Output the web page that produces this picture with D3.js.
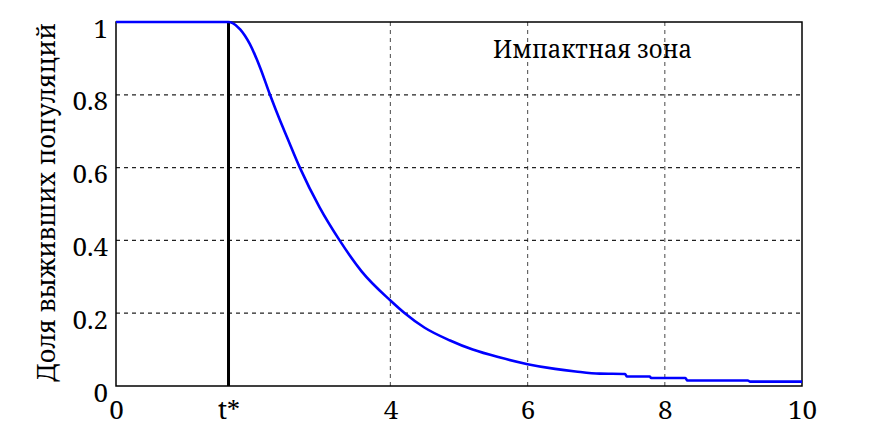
<!DOCTYPE html>
<html>
<head>
<meta charset="utf-8">
<script src="https://cdn.jsdelivr.net/npm/d3@7"></script>
<style>
  html, body { margin: 0; padding: 0; background: #fff; }
  svg { display: block; }
  svg text { font-family: "Noto Serif", "DejaVu Serif", serif !important; fill: #000; }
</style>
</head>
<body>
<svg id="chart" width="886" height="429"></svg>
<script>
// ---- data ----
const tStar = 1.64;
const timeValues = [0, 1.64, 1.70, 1.81, 1.95, 2.10, 2.245, 2.39, 2.49, 2.68, 2.97, 3.26, 3.58, 4.00, 4.21, 4.50, 4.87, 5.20, 5.60, 6.00, 6.40, 6.70, 7.05, 7.42, 7.45, 7.78, 7.80, 8.30, 8.33, 9.21, 9.24, 10];
const survivalValues = [1, 1, 0.997, 0.98, 0.94, 0.875, 0.80, 0.73, 0.685, 0.60, 0.49, 0.40, 0.315, 0.235, 0.20, 0.16, 0.125, 0.10, 0.078, 0.06, 0.047, 0.04, 0.034, 0.033, 0.026, 0.026, 0.022, 0.022, 0.015, 0.015, 0.012, 0.012];
const xTickValues = [0, tStar, 4, 6, 8, 10];
const xTickLabels = ["0", "t*", "4", "6", "8", "10"];
const xGridValues = [4, 6, 8];
const yTickValues = [0, 0.2, 0.4, 0.6, 0.8, 1];
const yTickLabels = ["0", "0.2", "0.4", "0.6", "0.8", "1"];
const yGridValues = [0.2, 0.4, 0.6, 0.8];
const yAxisTitle = "Доля выживших популяций";
const annotation = "Импактная зона";

// ---- layout ----
const svg = d3.select("#chart");
const plot = { left: 116, right: 802, top: 22, bottom: 386 };
const x = d3.scaleLinear().domain([0, 10]).range([plot.left, plot.right]);
const y = d3.scaleLinear().domain([0, 1]).range([plot.bottom, plot.top]);

// grid
svg.append("g").selectAll("line").data(xGridValues).join("line")
  .attr("x1", d => x(d)).attr("x2", d => x(d))
  .attr("y1", plot.top).attr("y2", plot.bottom)
  .attr("stroke", "#666").attr("stroke-width", 1.2).attr("stroke-dasharray", "4,4");
svg.append("g").selectAll("line").data(yGridValues).join("line")
  .attr("x1", plot.left).attr("x2", plot.right)
  .attr("y1", d => y(d)).attr("y2", d => y(d))
  .attr("stroke", "#222").attr("stroke-width", 1.2).attr("stroke-dasharray", "4,4");

// frame
svg.append("rect")
  .attr("x", plot.left).attr("y", plot.top)
  .attr("width", plot.right - plot.left).attr("height", plot.bottom - plot.top)
  .attr("fill", "none").attr("stroke", "#000").attr("stroke-width", 1.5);

// axes
const xAxis = d3.axisBottom(x).tickValues(xTickValues)
  .tickFormat((d, i) => xTickLabels[i]).tickSize(0).tickPadding(0);
const gx = svg.append("g").attr("transform", `translate(0,${plot.bottom})`).call(xAxis);
gx.attr("font-family", null);
gx.select(".domain").remove();
gx.selectAll("text").attr("font-size", 26)
  .attr("dy", null).attr("y", 33).attr("fill", "#000");

const yAxis = d3.axisLeft(y).tickValues(yTickValues)
  .tickFormat((d, i) => yTickLabels[i]).tickSize(0).tickPadding(0);
const gy = svg.append("g").attr("transform", `translate(${plot.left},0)`).call(yAxis);
gy.attr("font-family", null);
gy.select(".domain").remove();
gy.selectAll("text").attr("font-size", 26)
  .attr("x", -8).attr("dy", null).attr("y", 15).attr("fill", "#000");

// t* vertical line
svg.append("line")
  .attr("x1", x(tStar)).attr("x2", x(tStar))
  .attr("y1", y(0)).attr("y2", y(1))
  .attr("stroke", "#000").attr("stroke-width", 3);

// curve
const pts = timeValues.map((t, i) => [t, survivalValues[i]]);
svg.append("path").datum(pts)
  .attr("d", d3.line().x(d => x(d[0])).y(d => y(d[1])).curve(d3.curveMonotoneX))
  .attr("fill", "none").attr("stroke", "#0000ff").attr("stroke-width", 2.6)
  .attr("stroke-linejoin", "round");

// y title
svg.append("text")
  .attr("transform", `translate(55,${(23 + 382) / 2}) rotate(-90)`)
  .attr("text-anchor", "middle").attr("font-size", 25)
  .attr("textLength", 359).attr("lengthAdjust", "spacingAndGlyphs")
  .text(yAxisTitle);

// annotation
svg.append("text")
  .attr("x", 493).attr("y", 58).attr("font-size", 25)
  .attr("textLength", 199).attr("lengthAdjust", "spacingAndGlyphs")
  .text(annotation);
</script>
</body>
</html>
